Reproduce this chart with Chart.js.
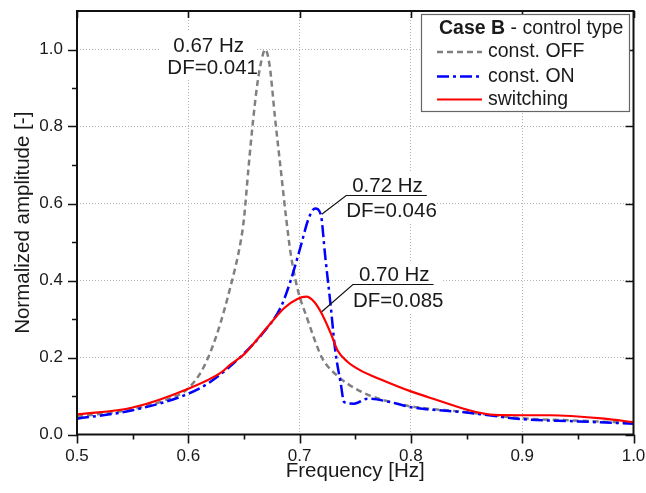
<!DOCTYPE html>
<html lang="en">
<head>
<meta charset="UTF-8">
<title>Case B - control type</title>
<script src="https://cdn.jsdelivr.net/npm/chart.js@4.4.0/dist/chart.umd.min.js"></script>
<style>
    html, body {
        margin: 0;
        padding: 0;
        background: #fff;
    }
    #wrap {
        width: 646px;
        height: 493px;
    }
</style>
</head>
<body>
<div id="wrap"><canvas id="chart"></canvas></div>
<script>
// const. OFF (grey dashed)
const freqOff = [0.50, 0.55, 0.58, 0.60, 0.614, 0.626, 0.638, 0.647, 0.650, 0.654, 0.658, 0.662, 0.666, 0.669,
                 0.673, 0.678, 0.683, 0.688, 0.692, 0.698, 0.707, 0.713, 0.720, 0.725, 0.735, 0.743, 0.760,
                 0.782, 0.80, 0.85, 0.90, 0.95, 1.00];
const ampOff = [0.046, 0.066, 0.09, 0.12, 0.176, 0.263, 0.385, 0.50, 0.56, 0.69, 0.81, 0.91, 0.975, 1.0,
                0.96, 0.82, 0.69, 0.56, 0.47, 0.38, 0.30, 0.25, 0.20, 0.178, 0.15, 0.132, 0.105,
                0.084, 0.073, 0.058, 0.042, 0.036, 0.030];

// const. ON (blue dash-dot)
const freqOn = [0.50, 0.55, 0.60, 0.62, 0.65, 0.668, 0.683, 0.692, 0.701, 0.708, 0.714, 0.719, 0.723, 0.728,
                0.732, 0.737, 0.740, 0.749, 0.761, 0.782, 0.80, 0.85, 0.90, 0.95, 1.00];
const ampOn = [0.041, 0.063, 0.106, 0.137, 0.21, 0.267, 0.33, 0.40, 0.489, 0.56, 0.587, 0.572, 0.463, 0.332,
               0.219, 0.132, 0.084, 0.080, 0.093, 0.084, 0.071, 0.057, 0.040, 0.034, 0.028];

// switching (red solid)
const freqSw = [0.50, 0.55, 0.60, 0.629, 0.638, 0.65, 0.668, 0.686, 0.698, 0.706, 0.713, 0.719, 0.728, 0.734,
                0.743, 0.755, 0.773, 0.80, 0.824, 0.851, 0.875, 0.90, 0.925, 0.944, 0.974, 1.00];
const ampSw = [0.052, 0.070, 0.119, 0.160, 0.182, 0.208, 0.268, 0.328, 0.352, 0.358, 0.345, 0.319, 0.263, 0.219,
               0.189, 0.166, 0.143, 0.112, 0.089, 0.064, 0.051, 0.050, 0.050, 0.048, 0.041, 0.032];

// axis ticks
const xTickValues = [0.5, 0.6, 0.7, 0.8, 0.9, 1.0];
const xMinorValues = [0.55, 0.65, 0.75, 0.85, 0.95];
const yTickValues = [0.0, 0.2, 0.4, 0.6, 0.8, 1.0];
const yMinorValues = [0.1, 0.3, 0.5, 0.7, 0.9];

// peak labels: text, where the text sits (data units) and which point the leader goes to
const peakLabels = [
    { lines: ['0.67 Hz', 'DF=0.041'], fx: 0.6183, fy: 1.0117, gap: 22, underline: false, dataset: null },
    { lines: ['0.72 Hz', 'DF=0.046'], fx: 0.779, fy: 0.647, gap: 24.5, underline: true, dataset: 1, freq: 0.719 },
    { lines: ['0.70 Hz', 'DF=0.085'], fx: 0.785, fy: 0.4156, gap: 25.5, underline: true, dataset: 2, freq: 0.719 }
];

const FONT = "Arial, 'Liberation Sans', sans-serif";
const TEXT = '#1a1a1a';

function toPoints(xs, ys) {
    return xs.map((v, i) => ({ x: v, y: ys[i] }));
}

// frame round the plot plus the tick marks
const framePlugin = {
    id: 'frame',
    afterDatasetsDraw(chart) {
        const { ctx, chartArea: a, scales: { x, y } } = chart;
        ctx.save();
        ctx.strokeStyle = '#111';
        ctx.lineWidth = 1.6;
        ctx.beginPath();
        xTickValues.forEach(v => {
            const px = Math.round(x.getPixelForValue(v)) + 0.5;
            ctx.moveTo(px, a.bottom); ctx.lineTo(px, a.bottom + 9);
            ctx.moveTo(px, a.top); ctx.lineTo(px, a.top + 7);
        });
        xMinorValues.forEach(v => {
            const px = Math.round(x.getPixelForValue(v)) + 0.5;
            ctx.moveTo(px, a.bottom); ctx.lineTo(px, a.bottom + 5);
        });
        yTickValues.forEach(v => {
            const py = Math.round(y.getPixelForValue(v)) + 0.5;
            ctx.moveTo(a.left - 9, py); ctx.lineTo(a.left, py);
            ctx.moveTo(a.right - 8, py); ctx.lineTo(a.right, py);
        });
        yMinorValues.forEach(v => {
            const py = Math.round(y.getPixelForValue(v)) + 0.5;
            ctx.moveTo(a.left - 5, py); ctx.lineTo(a.left, py);
        });
        ctx.stroke();
        ctx.lineWidth = 2;
        ctx.strokeRect(a.left, a.top, a.right - a.left, a.bottom - a.top);
        ctx.restore();
    }
};

// text with white boxes and leader lines to the peaks
const peakLabelPlugin = {
    id: 'peakLabels',
    beforeDatasetsDraw(chart) {
        const { ctx, scales: { x, y } } = chart;
        ctx.save();
        ctx.font = '20.5px ' + FONT;
        ctx.fillStyle = '#fff';
        peakLabels.forEach(p => {
            const cx = x.getPixelForValue(p.fx);
            const cy = y.getPixelForValue(p.fy);
            const w = Math.max(...p.lines.map(t => ctx.measureText(t).width)) + 6;
            ctx.fillRect(cx - w / 2, cy - 13, w, p.gap + 26);
        });
        ctx.restore();
    },
    afterDatasetsDraw(chart) {
        const { ctx, scales: { x, y } } = chart;
        ctx.save();
        ctx.font = '20.5px ' + FONT;
        ctx.fillStyle = TEXT;
        ctx.textAlign = 'center';
        ctx.textBaseline = 'middle';
        peakLabels.forEach(p => {
            const cx = x.getPixelForValue(p.fx);
            const cy = y.getPixelForValue(p.fy);
            p.lines.forEach((t, i) => ctx.fillText(t, cx + (i ? 4 : 0), cy + i * p.gap + 1));
            if (p.underline) {
                const w = ctx.measureText(p.lines[0]).width + 8;
                const uy = Math.round(cy + 10) + 0.5;
                const left = cx - w / 2 - 2;
                const meta = chart.getDatasetMeta(p.dataset);
                const xs = [freqOff, freqOn, freqSw][p.dataset];
                const pt = meta.data[xs.indexOf(p.freq)];
                ctx.strokeStyle = '#111';
                ctx.lineWidth = 1.2;
                ctx.beginPath();
                ctx.moveTo(left + w + 2, uy);
                ctx.lineTo(left, uy);
                ctx.lineTo(pt.x + 1, pt.y);
                ctx.stroke();
            }
        });
        ctx.restore();
    }
};

// legend box with the partly bold title
const legendPlugin = {
    id: 'boxLegend',
    afterDraw(chart) {
        const { ctx } = chart;
        const bx = 421.5, by = 14.5, bw = 208, bh = 97;
        ctx.save();
        ctx.fillStyle = '#fff';
        ctx.fillRect(bx, by, bw, bh);
        ctx.strokeStyle = '#666';
        ctx.lineWidth = 1.2;
        ctx.strokeRect(bx, by, bw, bh);

        ctx.textBaseline = 'middle';
        ctx.fillStyle = TEXT;
        ctx.font = 'bold 19.5px ' + FONT;
        const bold = 'Case B';
        ctx.fillText(bold, 439, 29);
        const bwid = ctx.measureText(bold).width;
        ctx.font = '19.5px ' + FONT;
        ctx.fillText(' - control type', 439 + bwid, 29);

        const rows = [52, 76.5, 99.5];
        chart.data.datasets.forEach((ds, i) => {
            ctx.strokeStyle = ds.borderColor;
            ctx.lineWidth = ds.borderWidth;
            ctx.setLineDash(ds.borderDash || []);
            ctx.beginPath();
            ctx.moveTo(437, rows[i]);
            ctx.lineTo(482, rows[i]);
            ctx.stroke();
            ctx.setLineDash([]);
            ctx.fillText(ds.label, 488, rows[i]);
        });
        ctx.restore();
    }
};

const isMajorY = v => yTickValues.some(t => Math.abs(t - v) < 1e-6) && Math.abs(v) > 1e-6;
const isInnerX = v => v > 0.5001 && v < 0.9999;

new Chart(document.getElementById('chart'), {
    type: 'line',
    data: {
        datasets: [
            {
                label: 'const. OFF',
                data: toPoints(freqOff, ampOff),
                borderColor: '#808080',
                borderWidth: 2.5,
                borderDash: [6, 4],
                order: 2
            },
            {
                label: 'const. ON',
                data: toPoints(freqOn, ampOn),
                borderColor: '#0000ff',
                borderWidth: 2.5,
                borderDash: [12, 4, 3, 4],
                order: 1
            },
            {
                label: 'switching',
                data: toPoints(freqSw, ampSw),
                borderColor: '#ff0000',
                borderWidth: 2.2,
                order: 0
            }
        ]
    },
    options: {
        responsive: true,
        maintainAspectRatio: false,
        animation: false,
        layout: { padding: { top: 0, right: 0, left: 0, bottom: 0 } },
        elements: {
            point: { radius: 0 },
            line: { cubicInterpolationMode: 'monotone', fill: false }
        },
        plugins: {
            legend: { display: false },
            tooltip: { enabled: false }
        },
        scales: {
            x: {
                type: 'linear',
                min: 0.5,
                max: 1.0,
                afterBuildTicks: s => { s.ticks = xTickValues.map(v => ({ value: v })); },
                afterFit: s => { s.height = 58.5; s.paddingRight = 12.5; },
                border: { display: false, dash: [1, 2] },
                grid: {
                    drawTicks: false,
                    lineWidth: 1,
                    color: c => isInnerX(c.tick.value) ? '#b4b4b4' : 'rgba(0,0,0,0)'
                },
                ticks: {
                    padding: 12,
                    color: TEXT,
                    font: { family: FONT, size: 17 },
                    maxRotation: 0,
                    callback: v => Number(v).toFixed(1)
                },
                title: {
                    display: true,
                    text: 'Frequency [Hz]',
                    color: TEXT,
                    font: { family: FONT, size: 20.5 },
                    padding: { top: 0, bottom: 9 }
                }
            },
            y: {
                type: 'linear',
                min: 0,
                max: 1.1,
                afterBuildTicks: s => { s.ticks = yTickValues.map(v => ({ value: v })); },
                afterFit: s => { s.width = 77; s.paddingTop = 11; s.paddingBottom = 0; },
                border: { display: false, dash: [1, 2] },
                grid: {
                    drawTicks: false,
                    lineWidth: 1,
                    color: c => isMajorY(c.tick.value) ? '#b4b4b4' : 'rgba(0,0,0,0)'
                },
                ticks: {
                    padding: 14,
                    color: TEXT,
                    font: { family: FONT, size: 17 },
                    callback: v => Number(v).toFixed(1)
                },
                title: {
                    display: true,
                    text: 'Normalized amplitude [-]',
                    color: TEXT,
                    font: { family: FONT, size: 20.5 },
                    padding: { top: 11, bottom: 0 }
                }
            }
        }
    },
    plugins: [peakLabelPlugin, framePlugin, legendPlugin]
});
</script>
</body>
</html>
